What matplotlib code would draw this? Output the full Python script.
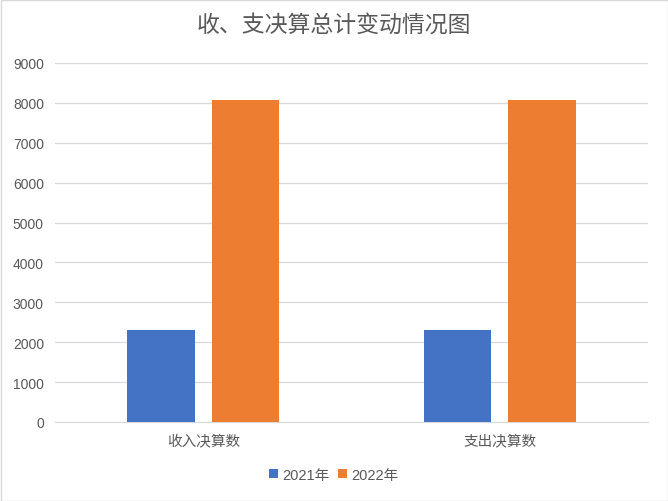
import matplotlib
matplotlib.use("Agg")
import matplotlib.pyplot as plt
from matplotlib.patches import Rectangle
import numpy as np

plt.rcParams['font.family'] = ['Liberation Sans', 'Noto Sans CJK SC', 'DejaVu Sans']

categories = ['收入决算数', '支出决算数']
series_names = ['2021年', '2022年']
values_2021 = [2310, 2310]
values_2022 = [8080, 8080]
colors = ['#4472C4', '#ED7D31']

fig = plt.figure(figsize=(6.68, 5.02), dpi=100)
ax = fig.add_axes([55/668, 1-423/502, 593/668, 359/502])

x = np.arange(len(categories))
w = 0.226
off = 0.1425
ax.bar(x - off, values_2021, width=w, color=colors[0], label=series_names[0], zorder=3)
ax.bar(x + off, values_2022, width=w, color=colors[1], label=series_names[1], zorder=3)

ax.set_xlim(-0.5, 1.5)
ax.set_ylim(0, 9000)
ax.set_yticks(range(0, 9001, 1000))
ax.yaxis.grid(True, color='#D9D9D9', linewidth=0.9, zorder=0)
ax.set_xticks(x)
ax.set_xticklabels(categories)
for s in ['top', 'right', 'left']:
    ax.spines[s].set_visible(False)
ax.spines['bottom'].set_color('#D9D9D9')
ax.tick_params(axis='both', length=0, colors='#595959', labelsize=10)
ax.tick_params(axis='x', pad=8, labelsize=10.5)
ax.tick_params(axis='y', pad=8)

fig.suptitle('收、支决算总计变动情况图', y=1-25/502, va='center', fontsize=16.5, color='#595959')

ax.legend(loc='center', bbox_to_anchor=(334/668, 1-476/502), bbox_transform=fig.transFigure,
          ncol=2, frameon=False, fontsize=10.5, labelcolor='#595959',
          handlelength=0.6, handleheight=0.6, handletextpad=0.3, columnspacing=0.6)

fig.patches.append(Rectangle((0.5/668, 0.5/502), 1-1/668, 1-1/502, transform=fig.transFigure,
                             fill=False, edgecolor='#D9D9D9', linewidth=1))

fig.savefig('out.png', dpi=100, facecolor='white')
